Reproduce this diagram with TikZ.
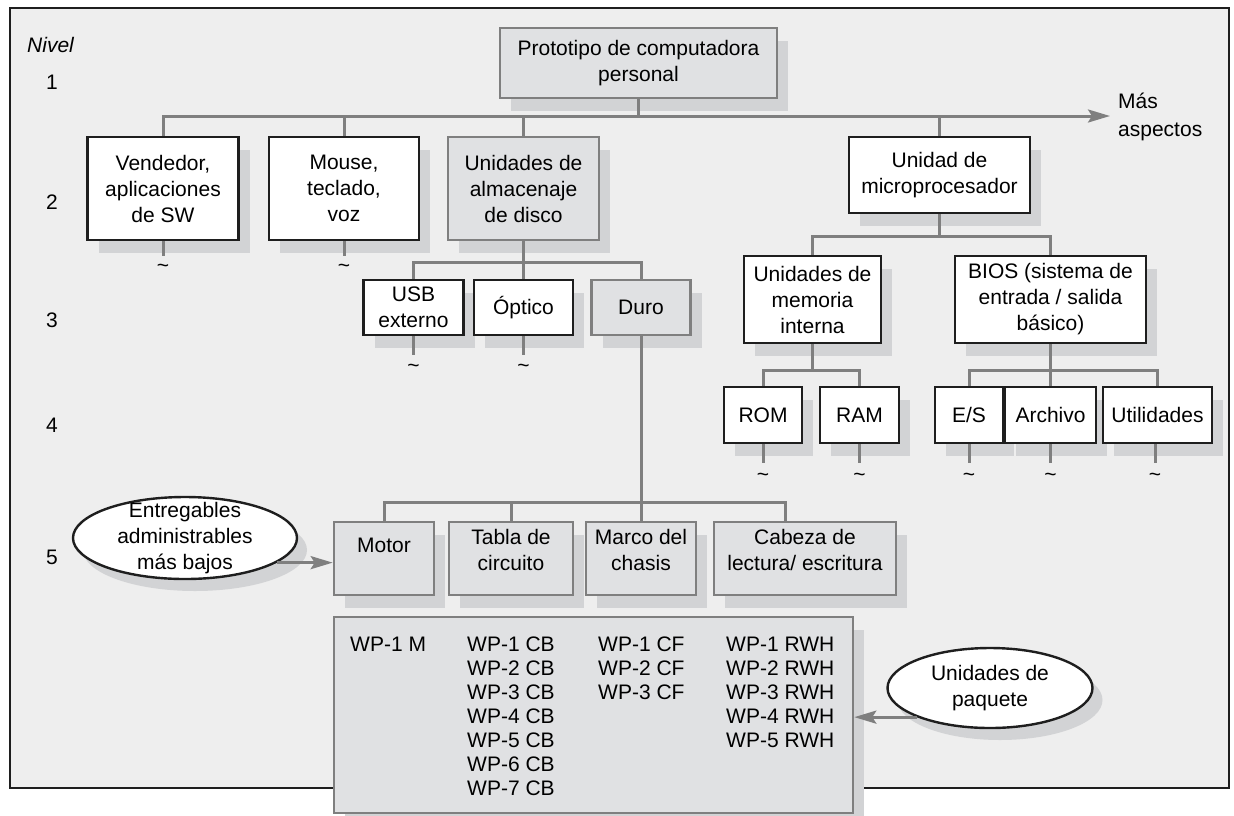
\documentclass[tikz,border=0pt]{standalone}
\usepackage{fontspec}
\setmainfont{Liberation Sans}
\usetikzlibrary{shapes.geometric,shadows,arrows.meta}
\definecolor{framefill}{HTML}{EEEEEE}
\definecolor{shcol}{HTML}{D2D3D5}
\definecolor{gfill}{HTML}{E0E1E3}
\definecolor{gline}{HTML}{7F7F7F}
\definecolor{bline}{HTML}{1E1E1E}
\begin{document}
\begin{tikzpicture}[x=1pt,y=-1pt,
  txt/.style={inner sep=0pt,font=\fontsize{21}{26}\selectfont},
  sh/.style={general shadow={fill=shcol,shadow xshift=11pt,shadow yshift=-13pt}},
  sz/.style 2 args={minimum width=#1pt,minimum height=#2pt},
  wbox/.style={txt,draw=bline,line width=2.6pt,fill=white,align=center,sh},
  gbox/.style={txt,draw=gline,line width=2.6pt,fill=gfill,align=center,sh},
  oval/.style={txt,ellipse,draw=bline,line width=2.4pt,fill=white,align=center,
    general shadow={fill=shcol,shadow xshift=10pt,shadow yshift=-12pt}},
  conn/.style={draw=gline,line width=3pt},
  tip/.style={-{Stealth[length=22pt,width=13pt,inset=4pt]}},
  tld/.style={inner sep=0pt,font=\fontsize{21}{26}\selectfont},
  lvl/.style={txt},
  wpcol/.style={inner sep=0pt,anchor=north west,align=left,font=\fontsize{21}{24}\selectfont},
  ]
\fill[white] (0,0) rectangle (1234,815);
\useasboundingbox (0,0) rectangle (1234,815);
\draw[draw=bline,line width=2pt,fill=framefill] (10,8) rectangle (1229,788);

% level labels
\node[txt,font=\fontsize{21}{26}\selectfont\itshape,anchor=west] (nivel) at (27,45) {Nivel};
\node[lvl] (l1) at (52,82) {1};
\node[lvl] (l2) at (52,202) {2};
\node[lvl] (l3) at (52,320) {3};
\node[lvl] (l4) at (52,425) {4};
\node[lvl] (l5) at (52,557) {5};

% level 1
\node[gbox,sz={277}{70}] (proto) at (638.5,63) {Prototipo de computadora\\personal};
% level 2
\node[wbox,sz={151}{103}] (vend) at (163,188.5) {Vendedor,\\aplicaciones\\de SW};
\node[wbox,sz={150}{103}] (mouse) at (344,188.5) {Mouse,\\teclado,\\voz};
\node[gbox,sz={151}{103}] (alm) at (523.5,188.5) {Unidades de\\almacenaje\\de disco};
\node[wbox,sz={181}{76}] (micro) at (939.5,175) {Unidad de\\microprocesador};
\node[txt,anchor=west,align=left,font=\fontsize{21}{28}\selectfont] (mas) at (1118,117) {Más\\aspectos};
% level 3
\node[wbox,sz={100}{55}] (usb) at (413.5,307.5) {USB\\externo};
\node[wbox,sz={99}{55}] (opt) at (523.5,307.5) {Óptico};
\node[gbox,sz={99}{55}] (duro) at (641,307.5) {Duro};
\node[wbox,sz={137}{87}] (mem) at (812.5,299.5) {Unidades de\\memoria\\interna};
\node[wbox,sz={191}{87}] (bios) at (1050.5,299.5) {BIOS (sistema de\\entrada / salida\\básico)};
% level 4
\node[wbox,sz={78}{56}] (rom) at (763,415) {ROM};
\node[wbox,sz={79}{56}] (ram) at (859.5,415) {RAM};
\node[wbox,sz={68}{56}] (es) at (969,415) {E/S};
\node[wbox,sz={91}{56}] (arch) at (1050.5,415) {Archivo};
\node[wbox,sz={109}{56}] (util) at (1157.5,415) {Utilidades};
% level 5
\node[gbox,sz={100}{73}] (motor) at (384,558.5) {Motor\\[1pt]\mbox{}};
\node[gbox,sz={124}{73}] (tabla) at (511,558.5) {Tabla de\\circuito\\[-8pt]\mbox{}};
\node[gbox,sz={110}{73}] (marco) at (641,558.5) {Marco del\\chasis\\[-8pt]\mbox{}};
\node[gbox,sz={182}{73}] (cab) at (805,558.5) {Cabeza de\\lectura/ escritura\\[-8pt]\mbox{}};
% work packages
\node[gbox,sz={519}{196}] (wp) at (593.5,715) {};
\node[wpcol] (wpm) at (350,636.5) {WP-1 M};
\node[wpcol] (wpcb) at (467,636.5) {WP-1 CB\\WP-2 CB\\WP-3 CB\\WP-4 CB\\WP-5 CB\\WP-6 CB\\WP-7 CB};
\node[wpcol] (wpcf) at (598,636.5) {WP-1 CF\\WP-2 CF\\WP-3 CF};
\node[wpcol] (wprwh) at (726,636.5) {WP-1 RWH\\WP-2 RWH\\WP-3 RWH\\WP-4 RWH\\WP-5 RWH};

% ovals
\node[oval,inner xsep=0pt,inner ysep=-20pt,sz={224}{82}] (ent) at (185,538) {Entregables\\administrables\\más bajos};
\node[oval,inner sep=0pt,sz={205}{80}] (pq) at (990,688) {Unidades de\\paquete};

% bus coordinates
\coordinate (more) at (1110,116);
\coordinate (bus2m) at (0,236);
\coordinate (bus3) at (0,262);
\coordinate (bus4) at (0,370);
\coordinate (bus5) at (0,502);

% connectors level 1
\draw[conn,tip] (vend.north) |- (more);
\draw[conn] (proto.south) -- (proto.south |- more);
\draw[conn] (mouse.north) -- (mouse.north |- more);
\draw[conn] (alm.north) -- (alm.north |- more);
\draw[conn] (micro.north) -- (micro.north |- more);
% storage
\draw[conn] (usb.north) |- (bus3 -| duro.north) -- (duro.north);
\draw[conn] (alm.south) -- (opt.north);
% micro
\draw[conn] (mem.north) |- (bus2m -| bios.north) -- (bios.north);
\draw[conn] (micro.south) -- (micro.south |- bus2m);
\draw[conn] (rom.north) |- (bus4 -| ram.north) -- (ram.north);
\draw[conn] (mem.south) -- (mem.south |- bus4);
\draw[conn] (es.north) |- (bus4 -| util.north) -- (util.north);
\draw[conn] (bios.south) -- (arch.north);
% level 5
\draw[conn] (motor.north) |- ([xshift=-20pt]bus5 -| cab.north) -- ([xshift=-20pt]cab.north);
\draw[conn] (tabla.north) -- (tabla.north |- bus5);
\draw[conn] (duro.south) -- (marco.north);

% tildes
\foreach \n/\x/\y in {vend/163/268, mouse/344/268, usb/413.5/368, opt/523.5/368,
  rom/763/477, ram/859.5/477, es/969/477, arch/1050.5/477, util/1155/477}{
  \node[tld] (t\n) at (\x,\y) {\textasciitilde};
}
\draw[conn] (vend.south) -- ++(0,15);
\draw[conn] (mouse.south) -- ++(0,15);
\draw[conn] (usb.south) -- ++(0,19);
\draw[conn] (opt.south) -- ++(0,19);
\draw[conn] (rom.south) -- ++(0,19);
\draw[conn] (ram.south) -- ++(0,19);
\draw[conn] (es.south) -- ++(0,19);
\draw[conn] (arch.south) -- ++(0,19);
\draw[conn] ([xshift=-2.5pt]util.south) -- ++(0,19);

% arrows from ovals
\draw[conn,tip] (ent.-15) -- (ent.-15 -| motor.west);
\draw[conn,tip] (pq.south west) -- (pq.south west -| wp.east);
\end{tikzpicture}
\end{document}
